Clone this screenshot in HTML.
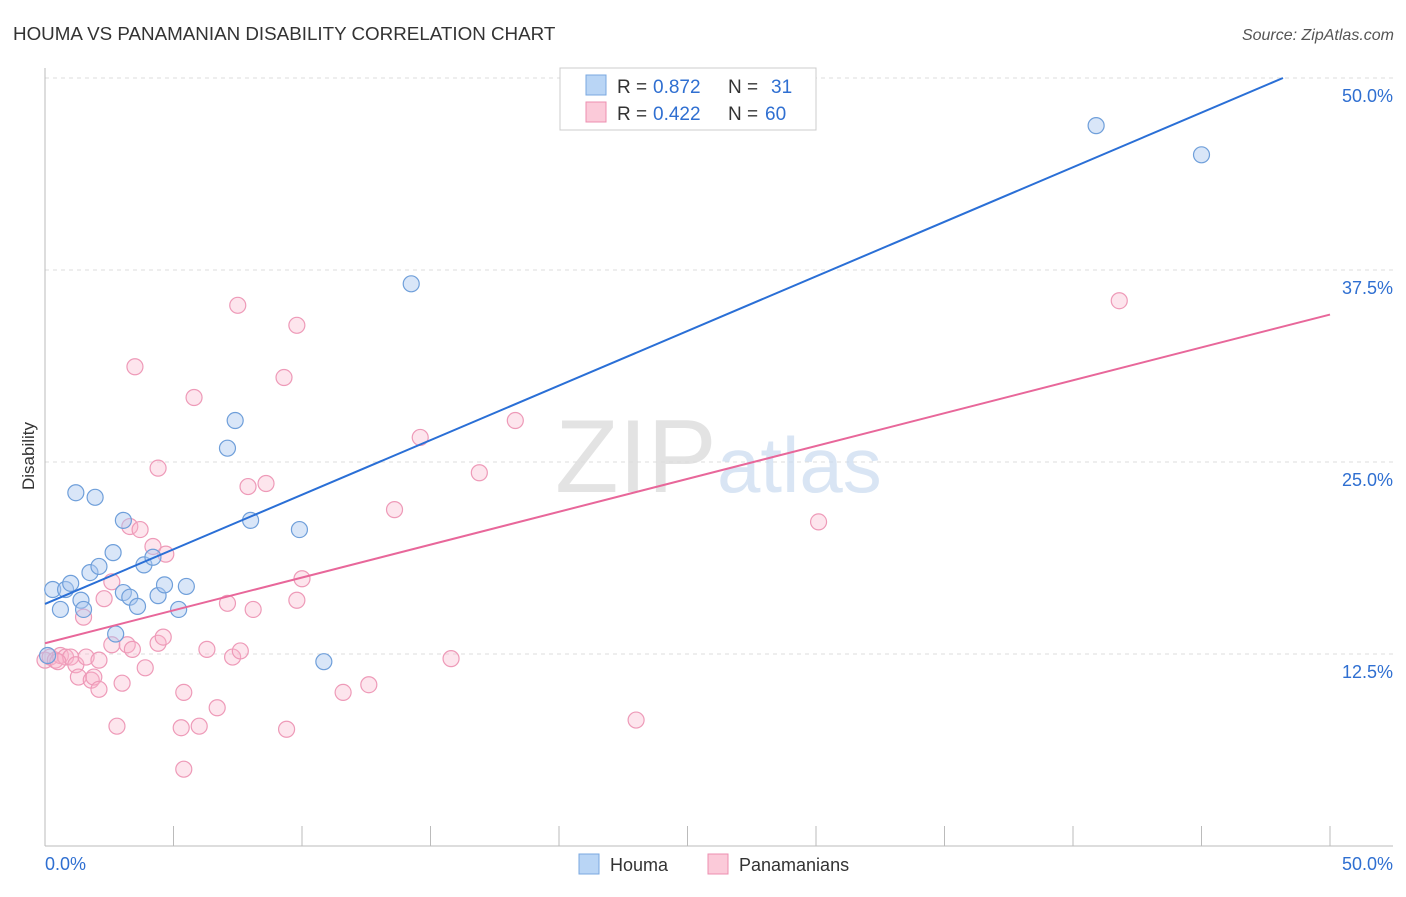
<!DOCTYPE html>
<html><head><meta charset="utf-8"><style>
body{margin:0;background:#fff;font-family:"Liberation Sans",sans-serif}
svg text{font-family:"Liberation Sans",sans-serif}
</style></head><body>
<svg width="1406" height="892" viewBox="0 0 1406 892">
<text x="13" y="40" font-size="18.8" fill="#333">HOUMA VS PANAMANIAN DISABILITY CORRELATION CHART</text>
<text x="1394" y="40" font-size="16" fill="#555" font-style="italic" text-anchor="end">Source: ZipAtlas.com</text>
<text x="34" y="456" font-size="17" fill="#333" text-anchor="middle" transform="rotate(-90 34 456)">Disability</text>
<g id="grid"></g>
<g><text x="555" y="492" font-size="104" fill="#ddd" font-family="Liberation Serif" opacity="0.8">ZIP</text><text x="717" y="492" font-size="78" fill="#c9dbf0" opacity="0.7">atlas</text></g>
<g id="marks"></g>
<g>
<rect x="560" y="68" width="256" height="62" fill="#fff" stroke="#ccc"/>
<rect x="586" y="75" width="20" height="20" fill="#b9d5f5" stroke="#7aa8e0"/>
<text x="617" y="93" font-size="19" fill="#333">R =</text>
<text x="653" y="93" font-size="19" fill="#2f6fd1">0.872</text>
<text x="728" y="93" font-size="19" fill="#333">N =</text>
<text x="771" y="93" font-size="19" fill="#2f6fd1">31</text>
<rect x="586" y="102" width="20" height="20" fill="#fbcad9" stroke="#ec8fb0"/>
<text x="617" y="120" font-size="19" fill="#333">R =</text>
<text x="653" y="120" font-size="19" fill="#2f6fd1">0.422</text>
<text x="728" y="120" font-size="19" fill="#333">N =</text>
<text x="765" y="120" font-size="19" fill="#2f6fd1">60</text>
</g>
<g>
<rect x="579" y="854" width="20" height="20" fill="#b9d5f5" stroke="#7aa8e0"/>
<text x="610" y="871" font-size="18" fill="#333">Houma</text>
<rect x="708" y="854" width="20" height="20" fill="#fbcad9" stroke="#ec8fb0"/>
<text x="739" y="871" font-size="18" fill="#333">Panamanians</text>
</g>
</svg>
<script>
const yTicks=[12.5,25,37.5,50];
const yTickLabels=["12.5%","25.0%","37.5%","50.0%"];
const houmaX=[0.3,0.6,0.8,1.0,1.2,1.4,1.5,1.75,1.95,2.1,2.65,2.75,3.05,3.05,3.3,3.6,3.85,4.2,4.4,4.65,5.2,5.5,7.1,7.4,8.0,9.9,10.85,14.25,40.9,45.0,0.1];
const houmaY=[16.7,15.4,16.7,17.1,23.0,16.0,15.4,17.8,22.7,18.2,19.1,13.8,21.2,16.5,16.2,15.6,18.3,18.8,16.3,17.0,15.4,16.9,25.9,27.7,21.2,20.6,12.0,36.6,46.9,45.0,12.4];
const panX=[0.0,0.2,0.4,0.6,0.8,1.0,1.2,1.3,1.5,1.6,1.8,1.9,2.1,2.1,2.3,2.6,2.6,2.8,3.0,3.2,3.3,3.4,3.5,3.7,3.9,4.2,4.4,4.4,4.6,4.7,5.3,5.4,5.4,5.8,6.0,6.3,6.7,7.1,7.3,7.5,7.6,7.9,8.1,8.6,9.3,9.4,9.8,9.8,10.0,11.6,12.6,13.6,14.6,15.8,16.9,18.3,23.0,30.1,41.8,0.5];
const panY=[12.1,12.3,12.1,12.4,12.3,12.3,11.8,11.0,14.9,12.3,10.8,11.0,10.2,12.1,16.1,17.2,13.1,7.8,10.6,13.1,20.8,12.8,31.2,20.6,11.6,19.5,13.2,24.6,13.6,19.0,7.7,10.0,5.0,29.2,7.8,12.8,9.0,15.8,12.3,35.2,12.7,23.4,15.4,23.6,30.5,7.6,16.0,33.9,17.4,10.0,10.5,21.9,26.6,12.2,24.3,27.7,8.2,21.1,35.5,12.0];
const houmaTrend=[0,15.76,48.17,50];
const panTrend=[0,13.2,50,34.6];
const NS="http://www.w3.org/2000/svg";
const X=v=>45+v/50*1285, Y=v=>846-v/12.5*192;
function mk(t,a,p){const e=document.createElementNS(NS,t);for(const k in a)e.setAttribute(k,a[k]);p.appendChild(e);return e;}
const g=document.getElementById('grid'), m=document.getElementById('marks');
yTicks.forEach((t,i)=>{
 const l=mk('line',{x1:45,x2:1393,y1:Y(t),y2:Y(t),stroke:'#ddd','stroke-dasharray':'4,4'},g);
 
 
 const tx=mk('text',{x:1393,y:Y(t)+24,'font-size':18,fill:'#2f6fd1','text-anchor':'end'},g);
 tx.textContent=yTickLabels[i];
 
 
});
const ax=mk('line',{x1:45,x2:45,y1:68,y2:846,stroke:'#bbb'},g);


const bx=mk('line',{x1:45,x2:1393,y1:846,y2:846,stroke:'#bbb'},g);


for(let i=0;i<=10;i++){const t=mk('line',{x1:X(i*5),x2:X(i*5),y1:826,y2:846,stroke:'#bbb'},g);
 
 }
[[45,'start','0.0%'],[1393,'end','50.0%']].forEach(d=>{const t=mk('text',{x:d[0],y:870,'font-size':18,fill:'#2f6fd1','text-anchor':d[1]},g);t.textContent=d[2];
 
 });
panX.forEach((v,i)=>{const c=mk('circle',{cx:X(v),cy:Y(panY[i]),r:8,fill:'rgba(248,180,204,0.35)',stroke:'#ee9ab8','stroke-width':1.2},m);
 
 });
houmaX.forEach((v,i)=>{const c=mk('circle',{cx:X(v),cy:Y(houmaY[i]),r:8,fill:'rgba(170,200,240,0.45)',stroke:'#6f9fda','stroke-width':1.2},m);
 
 });
const l1=mk('line',{x1:X(houmaTrend[0]),y1:Y(houmaTrend[1]),x2:X(houmaTrend[2]),y2:Y(houmaTrend[3]),stroke:'#2a6fd6','stroke-width':2},m);


const l2=mk('line',{x1:X(panTrend[0]),y1:Y(panTrend[1]),x2:X(panTrend[2]),y2:Y(panTrend[3]),stroke:'#e8679a','stroke-width':2},m);


</script>
</body></html>
